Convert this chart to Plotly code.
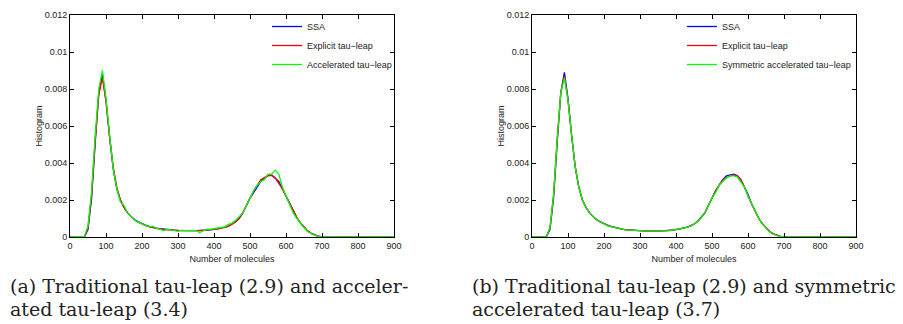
import plotly.graph_objects as go

# ---------------- data ----------------
molecules = [0, 10, 20, 30, 40, 50, 60, 70, 80, 90, 100, 110, 120, 130, 140, 150, 160, 170, 180, 190,
             200, 210, 220, 230, 240, 250, 260, 270, 280, 290, 300, 310, 320, 330, 340, 350, 360, 370,
             380, 390, 400, 410, 420, 430, 440, 450, 460, 470, 480, 490, 500, 510, 520, 530, 540, 550,
             560, 570, 580, 590, 600, 610, 620, 630, 640, 650, 660, 670, 680, 690, 700, 750, 800, 850, 900]

# (a) left panel
a_ssa = [0, 0, 0, 0, 0.00001, 0.0004, 0.0021, 0.0051, 0.0078, 0.0088, 0.0074, 0.0054, 0.0037, 0.0026,
         0.0020, 0.0016, 0.0013, 0.0011, 0.00093, 0.00082, 0.00072, 0.00064, 0.00058, 0.00052, 0.00048,
         0.00045, 0.00042, 0.0004, 0.00038, 0.00037, 0.00036, 0.00035, 0.00035, 0.00034, 0.00034, 0.00035,
         0.00035, 0.00036, 0.00037, 0.00039, 0.00041, 0.00044, 0.00048, 0.00053, 0.00058, 0.00068, 0.00082,
         0.001, 0.0013, 0.0017, 0.0021, 0.0024, 0.0027, 0.0030, 0.0032, 0.00333, 0.00335, 0.0032, 0.0030,
         0.0026, 0.0022, 0.0018, 0.0014, 0.00105, 0.00077, 0.00053, 0.00032, 0.0002, 0.0001, 0.00004,
         0.00001, 0, 0, 0, 0]
a_explicit = [0, 0, 0, 0, 0.00002, 0.0005, 0.0023, 0.0052, 0.0077, 0.0086, 0.0073, 0.0054, 0.0038, 0.0027,
              0.0020, 0.0016, 0.0013, 0.0011, 0.00092, 0.0008, 0.0007, 0.00062, 0.00055, 0.0005, 0.00046,
              0.00043, 0.0004, 0.00038, 0.00037, 0.00036, 0.00035, 0.00034, 0.00034, 0.00033, 0.00033, 0.00034,
              0.00034, 0.00035, 0.00037, 0.00039, 0.00041, 0.00043, 0.00047, 0.00052, 0.00058, 0.00069, 0.00083,
              0.00102, 0.0013, 0.0017, 0.0021, 0.0025, 0.0028, 0.0031, 0.0032, 0.0033, 0.00333, 0.0032, 0.0029,
              0.0026, 0.0022, 0.0018, 0.0014, 0.00105, 0.00076, 0.00052, 0.00033, 0.0002, 0.0001, 0.00004,
              0.00001, 0, 0, 0, 0]
a_accelerated = [0, 0, 0, 0, 0.00003, 0.0006, 0.0025, 0.0055, 0.0080, 0.0090, 0.0075, 0.0055, 0.0037, 0.0026,
                 0.0019, 0.0017, 0.0013, 0.0011, 0.0009, 0.0008, 0.0007, 0.00063, 0.00055, 0.00058, 0.00046,
                 0.00042, 0.00033, 0.00042, 0.00038, 0.00035, 0.00031, 0.00036, 0.00033, 0.00034, 0.00036, 0.00035,
                 0.00024, 0.00033, 0.00042, 0.00042, 0.00045, 0.00046, 0.0005, 0.00055, 0.00068, 0.00075, 0.0009,
                 0.0011, 0.0013, 0.0017, 0.0021, 0.0025, 0.0028, 0.0030, 0.0031, 0.0034, 0.0034, 0.0036, 0.0034,
                 0.0027, 0.0022, 0.0017, 0.0013, 0.001, 0.00072, 0.0005, 0.0003, 0.00018, 0.00009, 0.00003,
                 0.00001, 0, 0, 0, 0]

# (b) right panel
b_ssa = [0, 0, 0, 0, 0.00001, 0.0004, 0.0021, 0.0051, 0.0078, 0.0089, 0.0075, 0.0055, 0.0038, 0.0027,
         0.0020, 0.0016, 0.0013, 0.0011, 0.00093, 0.00082, 0.00072, 0.00064, 0.00057, 0.00051, 0.00047,
         0.00043, 0.0004, 0.00038, 0.00036, 0.00035, 0.00034, 0.00033, 0.00033, 0.00032, 0.00032, 0.00033,
         0.00033, 0.00034, 0.00035, 0.00037, 0.0004, 0.00043, 0.00047, 0.00053, 0.0006, 0.0007, 0.00085,
         0.00105, 0.0013, 0.0017, 0.0021, 0.0025, 0.0028, 0.0031, 0.0033, 0.00337, 0.0034, 0.00332, 0.0031,
         0.0027, 0.0023, 0.0018, 0.0014, 0.001, 0.00072, 0.00048, 0.0003, 0.00017, 0.00008, 0.00003,
         0.00001, 0, 0, 0, 0]
b_explicit = [0, 0, 0, 0, 0.00002, 0.0005, 0.0023, 0.0053, 0.0078, 0.0087, 0.0074, 0.0055, 0.0038, 0.0027,
              0.0020, 0.0016, 0.0013, 0.0011, 0.00092, 0.00081, 0.00071, 0.00062, 0.00056, 0.0005, 0.00046,
              0.00042, 0.00039, 0.00037, 0.00035, 0.00034, 0.00033, 0.00033, 0.00032, 0.00032, 0.00032, 0.00032,
              0.00032, 0.00033, 0.00035, 0.00037, 0.0004, 0.00043, 0.00047, 0.00052, 0.00059, 0.00069, 0.00084,
              0.00104, 0.0013, 0.0017, 0.0021, 0.0025, 0.0028, 0.0031, 0.0032, 0.0033, 0.00335, 0.0033, 0.0031,
              0.0027, 0.0022, 0.0018, 0.0014, 0.001, 0.0007, 0.00047, 0.0003, 0.00017, 0.00008, 0.00003,
              0.00001, 0, 0, 0, 0]
b_symmetric = [0, 0, 0, 0, 0.00002, 0.0005, 0.0023, 0.0053, 0.0078, 0.0086, 0.0074, 0.0055, 0.0038, 0.0027,
               0.0020, 0.0016, 0.0013, 0.0011, 0.00092, 0.00081, 0.00071, 0.00062, 0.00056, 0.0005, 0.00046,
               0.00042, 0.00039, 0.00037, 0.00035, 0.00034, 0.00033, 0.00033, 0.00032, 0.00032, 0.00032, 0.00032,
               0.00032, 0.00033, 0.00035, 0.00037, 0.0004, 0.00043, 0.00047, 0.00052, 0.00059, 0.00069, 0.00084,
               0.00104, 0.0013, 0.0017, 0.0021, 0.0024, 0.0028, 0.0030, 0.0032, 0.0033, 0.0033, 0.00325, 0.0030,
               0.0027, 0.0022, 0.0018, 0.0014, 0.001, 0.0007, 0.00046, 0.00028, 0.00016, 0.00007, 0.00003,
               0.00001, 0, 0, 0, 0]

x_ticks = [0, 100, 200, 300, 400, 500, 600, 700, 800, 900]
y_ticks = [0, 0.002, 0.004, 0.006, 0.008, 0.01, 0.012]
y_tick_text = ["0", "0.002", "0.004", "0.006", "0.008", "0.01", "0.012"]

names_a = ["SSA", "Explicit tau\u2212leap", "Accelerated tau\u2212leap"]
names_b = ["SSA", "Explicit tau\u2212leap", "Symmetric accelerated tau\u2212leap"]
colors = ["#0000ff", "#ff0000", "#00ff00"]

caption_a = ["(a) Traditional tau-leap (2.9) and acceler-", "ated tau-leap (3.4)"]
caption_b = ["(b) Traditional tau-leap (2.9) and symmetric", "accelerated tau-leap (3.7)"]

# ---------------- figure ----------------
# the page body adds an 8px offset; figure coords = page coords - 8
OFF = 8
W, H = 903 - OFF, 324 - OFF
fig = go.Figure()

for name, ys, c in zip(names_a, [a_ssa, a_explicit, a_accelerated], colors):
    fig.add_trace(go.Scatter(x=molecules, y=ys, mode="lines", name=name,
                             line=dict(color=c, width=1.3), xaxis="x", yaxis="y", legend="legend"))
for name, ys, c in zip(names_b, [b_ssa, b_explicit, b_symmetric], colors):
    fig.add_trace(go.Scatter(x=molecules, y=ys, mode="lines", name=name,
                             line=dict(color=c, width=1.3), xaxis="x2", yaxis="y2", legend="legend2"))

tick_font = dict(family="Liberation Sans, Arial", size=9, color="#222222")


def px(v):
    return (v - OFF) / W


def py(v):
    return 1 - (v - OFF) / H


def xax(domain, anchor):
    return dict(domain=domain, anchor=anchor, range=[0, 900], tickvals=x_ticks, automargin=False,
                ticks="inside", ticklen=4, tickcolor="#000", showline=True, linecolor="#000",
                linewidth=1, mirror="ticks", showgrid=False, zeroline=False, tickfont=tick_font,
                title=dict(text="Number of molecules", font=tick_font, standoff=5))


def yax(domain, anchor):
    return dict(domain=domain, anchor=anchor, range=[0, 0.012], tickvals=y_ticks, ticktext=y_tick_text,
                automargin=False,
                ticks="inside", ticklen=4, tickcolor="#000", showline=True, linecolor="#000",
                linewidth=1, mirror="ticks", showgrid=False, zeroline=False, tickfont=tick_font,
                title=dict(text="Histogram", font=tick_font, standoff=0))


yd = [py(237), py(15)]
legend_common = dict(bgcolor="rgba(0,0,0,0)", borderwidth=0, font=tick_font,
                     yanchor="top", xanchor="left", tracegroupgap=0)

fig.update_layout(
    template="none",
    width=W, height=H,
    margin=dict(l=0, r=0, t=0, b=0),
    paper_bgcolor="white", plot_bgcolor="white",
    xaxis=xax([px(70), px(394)], "y"),
    yaxis=yax(yd, "x"),
    xaxis2=xax([px(532), px(856)], "y2"),
    yaxis2=yax(yd, "x2"),
    legend=dict(x=px(267), y=py(12), **legend_common),
    legend2=dict(x=px(682), y=py(12), **legend_common),
    showlegend=True,
)

cap_font = dict(family="DejaVu Serif, serif", size=19, color="#222222")
for lines, x0 in [(caption_a, OFF), (caption_b, 470)]:
    for i, t in enumerate(lines):
        fig.add_annotation(text=t, xref="paper", yref="paper", x=px(x0), y=py(286 + 23 * i),
                           xanchor="left", yanchor="middle", showarrow=False, font=cap_font)

fig.write_html("out.html")
